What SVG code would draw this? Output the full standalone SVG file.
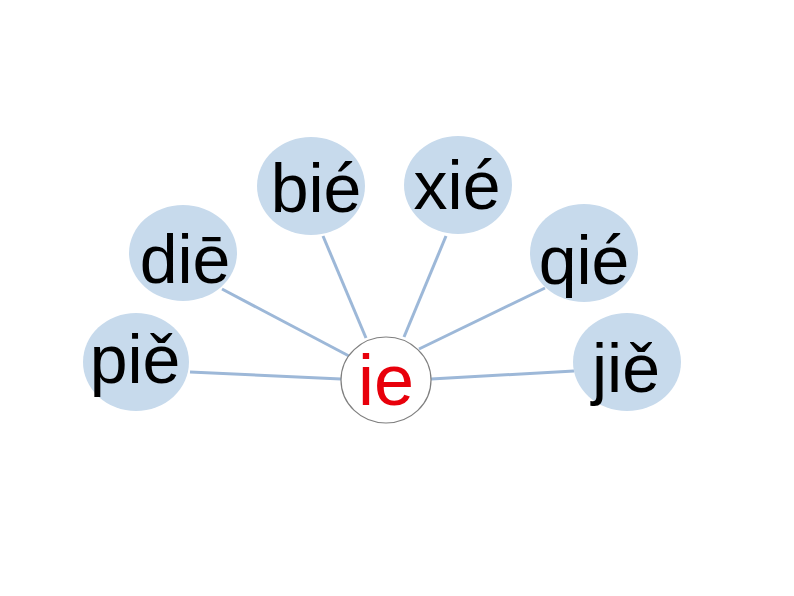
<svg xmlns="http://www.w3.org/2000/svg" width="794" height="596" viewBox="0 0 794 596">
<style>
.node ellipse{fill:#C7DAEC;stroke:none}
.node text{font-family:"Liberation Sans",Arial,sans-serif;font-size:68px;fill:#000;text-anchor:middle}
#connectors line{stroke:#9DB8D8;stroke-width:3;stroke-linecap:butt}
#center ellipse{fill:#fff;stroke:#7f7f7f;stroke-width:1.2}
#center text{font-family:"Liberation Sans",Arial,sans-serif;font-size:72px;fill:#E8000B;text-anchor:middle}
</style>
<rect width="794" height="596" fill="#fff"/>
<g id="connectors">
<line x1="190" y1="372" x2="341" y2="379"/>
<line x1="222" y1="289" x2="349" y2="356"/>
<line x1="323" y1="236" x2="366" y2="338"/>
<line x1="446" y1="236" x2="404" y2="337"/>
<line x1="545" y1="288" x2="419" y2="349"/>
<line x1="574" y1="371" x2="431" y2="379"/>
</g>
<g id="node-pie" class="node"><ellipse cx="136" cy="362" rx="53" ry="49"/><text x="135" y="383">piě</text></g>
<g id="node-die" class="node"><ellipse cx="183" cy="253" rx="54" ry="48"/><text x="185" y="283">diē</text></g>
<g id="node-bie" class="node"><ellipse cx="311" cy="186" rx="54" ry="49"/><text x="316" y="212">bié</text></g>
<g id="node-xie" class="node"><ellipse cx="458" cy="185" rx="54" ry="49"/><text x="457" y="209">xié</text></g>
<g id="node-qie" class="node"><ellipse cx="584" cy="253" rx="54" ry="49"/><text x="584" y="284">qié</text></g>
<g id="node-jie" class="node"><ellipse cx="627" cy="362" rx="54" ry="49"/><text x="626" y="392">jiě</text></g>
<g id="center"><ellipse cx="386" cy="380" rx="45" ry="43"/><text x="386" y="405">ie</text></g>
</svg>
